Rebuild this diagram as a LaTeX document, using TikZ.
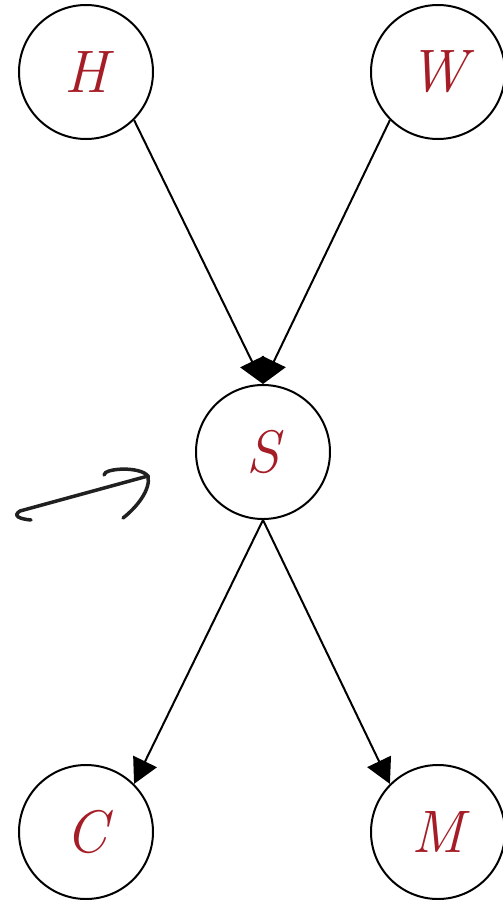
\documentclass[tikz,border=0pt]{standalone}
\usepackage{fontspec}
\usepackage{tikz}
\usetikzlibrary{arrows.meta,positioning,calc}
\usepackage{xcolor}
\definecolor{varred}{HTML}{A51D26}

\begin{document}
\begin{tikzpicture}[x=1pt,y=-1pt,
    var/.style={draw, line width=2pt, circle, minimum size=134pt, inner sep=0pt,
      text=varred, font=\fontsize{60}{60}\selectfont\itshape},
    edge/.style={line width=2pt, -{Triangle[length=25pt,width=26pt]}}]
  \useasboundingbox (0,0) rectangle (503,900);

  % The variables
  \node[var] (h) at (86,72) {H};
  \node[var] (w) at (438,72) {W};
  \node[var] (s) at (263,452) {S};
  \node[var] (c) at (86,832) {C};
  \node[var] (m) at (438,832) {M};

  % Dependencies
  \draw[edge] (h.south east) -- (s.north);
  \draw[edge] (w.south west) -- (s.north);
  \draw[edge] (s.south) -- (c.north east);
  \draw[edge] (s.south) -- (m.north west);

  % Hand-drawn pointer
  \draw[line width=3.5pt, gray!25!black, line cap=round, line join=round]
    (31,520) .. controls (20,519) and (12,516) .. (20,511)
    -- (148,476);
  \draw[line width=3.5pt, gray!25!black, line cap=round]
    (104,475) .. controls (104,468) and (140,466) .. (148,476)
    .. controls (151,490) and (136,508) .. (123,518);
\end{tikzpicture}
\end{document}
